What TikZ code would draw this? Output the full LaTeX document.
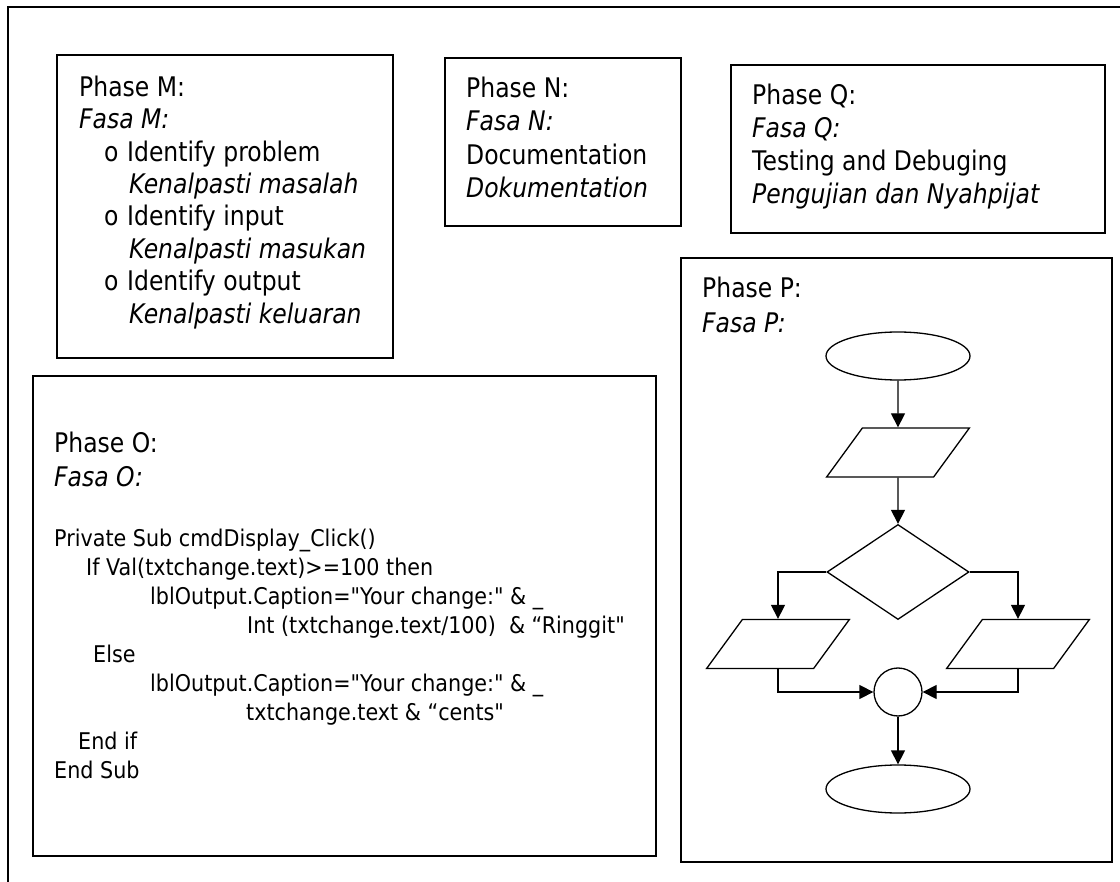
\documentclass[tikz,border=0pt]{standalone}
\usepackage{fontspec}
\setmainfont{DejaVu Sans}[FakeStretch=0.87]
\newfontfamily\codefont{DejaVu Sans}[FakeStretch=0.9]
\usetikzlibrary{shapes.geometric,arrows.meta}

\newcommand{\bulline}[1]{\hspace*{25pt}\makebox[23pt][l]{o}#1}
\newcommand{\subline}[1]{\hspace*{50pt}\textit{#1}}

\tikzset{
  phasebox/.style={draw,line width=1.6pt},
  phasetext/.style={anchor=north west,inner sep=0pt,align=left},
  codetext/.style={anchor=north west,inner sep=0pt,align=left,
    font=\codefont\fontsize{23}{29}\selectfont},
  flow/.style={draw,line width=1.3pt,inner sep=0pt},
  terminal/.style={flow,ellipse,minimum width=144pt,minimum height=48pt},
  iobox/.style={flow,rectangle,minimum width=107pt,minimum height=49pt,
    xslant=0.73,transform shape},
  decision/.style={flow,diamond,minimum width=142pt,minimum height=95pt},
  joint/.style={flow,circle,minimum size=48pt},
  arr/.style={line width=1.3pt,-{Triangle[length=14pt,width=14pt]}}
}

\begin{document}
\begin{tikzpicture}[x=1pt,y=-1pt]
\useasboundingbox (0,0) rectangle (1120,882);
% outer frame
\draw[line width=1.6pt] (1120,7) -- (8,7) -- (8,882);

% Phase M
\draw[phasebox] (57,55) rectangle (393,358);
\node[phasetext,font=\fontsize{27}{32.4}\selectfont] (phaseM) at (79,75.5)
  {Phase M:\\
   \textit{Fasa M:}\\
   \bulline{Identify problem}\\
   \subline{Kenalpasti masalah}\\
   \bulline{Identify input}\\
   \subline{Kenalpasti masukan}\\
   \bulline{Identify output}\\
   \subline{Kenalpasti keluaran}};

% Phase N
\draw[phasebox] (445,58) rectangle (681,226);
\node[phasetext,font=\fontsize{27}{33.5}\selectfont] (phaseN) at (466,76.5)
  {Phase N:\\ \textit{Fasa N:}\\ Documentation\\ \textit{Dokumentation}};

% Phase Q
\draw[phasebox] (731,65) rectangle (1105,233);
\node[phasetext,font=\fontsize{27}{33}\selectfont] (phaseQ) at (752,83.5)
  {Phase Q:\\ \textit{Fasa Q:}\\ Testing and Debuging\\ \textit{Pengujian dan Nyahpijat}};

% Phase O
\draw[phasebox] (33,376) rectangle (656,856);
\node[phasetext,font=\fontsize{27}{34}\selectfont] (phaseO) at (54,431.5)
  {Phase O:\\ \textit{Fasa O:}};
\node[codetext] (code) at (54,528.5)
  {Private Sub cmdDisplay\_Click()\\
   \hspace*{32pt}If Val(txtchange.text)>=100 then\\
   \hspace*{96pt}lblOutput.Caption="Your change:" \& \_\\
   \hspace*{193pt}Int (txtchange.text/100)\ \ \& “Ringgit"\\
   \hspace*{39pt}Else\\
   \hspace*{96pt}lblOutput.Caption="Your change:" \& \_\\
   \hspace*{192pt}txtchange.text \& “cents"\\
   \hspace*{24pt}End if\\
   End Sub};

% Phase P
\draw[phasebox] (681,258) rectangle (1112,862);
\node[phasetext,font=\fontsize{27}{35}\selectfont] (phaseP) at (702,276.5)
  {Phase P:\\ \textit{Fasa P:}};

% flowchart
\node[terminal] (start) at (898,356) {};
\node[iobox] (read) at (898,452.5) {};
\node[decision] (check) at (898,572) {};
\node[iobox] (yes) at (778,644) {};
\node[iobox] (no) at (1018,644) {};
\node[joint] (merge) at (898,692) {};
\node[terminal] (stop) at (898,789) {};

\draw[arr] (start) -- (read);
\draw[arr] (read) -- (check);
\draw[arr] (check.west) -| (yes);
\draw[arr] (check.east) -| (no);
\draw[arr] (yes) |- (merge);
\draw[arr] (no) |- (merge);
\draw[arr] (merge) -- (stop);
\end{tikzpicture}
\end{document}
